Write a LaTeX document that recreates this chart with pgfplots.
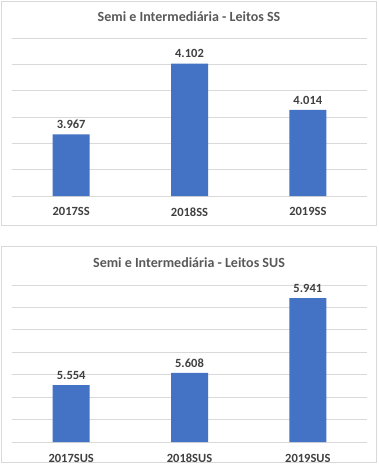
\documentclass[border=0pt]{standalone}
\usepackage{fontspec}
\setmainfont{Carlito}
\usepackage{pgfplots}
\pgfplotsset{compat=1.18}
\definecolor{barblue}{HTML}{4472C4}
\definecolor{gridgray}{HTML}{D9D9D9}
\definecolor{txtgray}{HTML}{404040}
\definecolor{titlegray}{HTML}{595959}
\pgfplotsset{
  mybars/.style={
    ybar, bar width=37pt,
    scale only axis, width=355pt, anchor=south west,
    xmin=-0.5, xmax=2.5, xtick=data,
    axis line style={draw=none},
    ymajorgrids, major grid style={gridgray, line width=0.8pt},
    yticklabels={}, ytick style={draw=none}, xtick style={draw=none},
    xticklabel style={font=\fontsize{12.5}{14}\selectfont\bfseries, text=txtgray, yshift=-4pt},
    nodes near coords, every node near coord/.append style={font=\fontsize{12.5}{14}\selectfont\bfseries, text=txtgray, yshift=2pt},
    /pgf/number format/.cd, fixed, 1000 sep={.}, assume math mode=true,
  }
}
\begin{document}
\begin{tikzpicture}
\path[use as bounding box, fill=white] (0pt,0pt) rectangle (378pt,-473pt);
\draw[gridgray, line width=0.8pt] (1.5pt,-1.5pt) rectangle (376.5pt,-225pt);
\draw[gridgray, line width=0.8pt] (1.5pt,-246pt) rectangle (376.5pt,-462.5pt);
\begin{axis}[mybars, at={(12pt,-196pt)}, height=157.7pt,
  ymin=3850, ymax=4150, ytick={3850,3900,...,4150},
  xticklabels={2017SS,2018SS,2019SS}]
\addplot[fill=barblue, draw=none] coordinates {(0,3967) (1,4102) (2,4014)};
\end{axis}
\node[font=\fontsize{14}{16}\selectfont\bfseries, text=titlegray] at (189pt,-16.7pt) {Semi e Intermediária - Leitos SS};
\begin{axis}[mybars, at={(12pt,-442pt)}, height=157pt,
  ymin=5300, ymax=6000, ytick={5300,5400,...,6000},
  xticklabels={2017SUS,2018SUS,2019SUS}]
\addplot[fill=barblue, draw=none] coordinates {(0,5554) (1,5608) (2,5941)};
\end{axis}
\node[font=\fontsize{14}{16}\selectfont\bfseries, text=titlegray] at (189pt,-262.7pt) {Semi e Intermediária - Leitos SUS};
\end{tikzpicture}
\end{document}
